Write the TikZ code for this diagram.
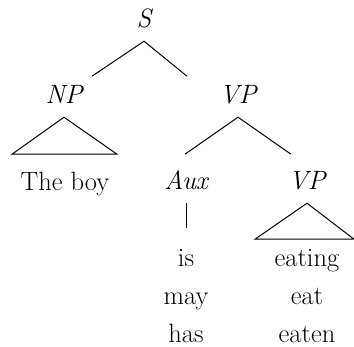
\documentclass[tikz,border=0pt]{standalone}
\usetikzlibrary{calc}

\begin{document}
\begin{tikzpicture}[
  x=1pt, y=-1pt,
  font=\fontsize{26.5}{31}\selectfont,
  cat/.style={font=\itshape\fontsize{26.5}{31}\selectfont, anchor=base, inner xsep=0pt, inner ysep=14pt, text depth=0pt},
  word/.style={anchor=base, inner sep=0pt},
  branch/.style={line width=1pt}
]
\useasboundingbox (0,0) rectangle (354,346);

\node[cat] (S) at (144,27) {S};
\node[cat] (NP) at (64,103) {NP};
\node[cat] (VP) at (238,103) {VP};
\node[word] (boy) at (65,190) {The boy};
\node[cat] (Aux) at (186,189) {Aux};
\node[cat] (VPb) at (307,189) {VP};

% free ends of the branches
\coordinate (S-l) at ($(S.south)+(-52,35)$);
\coordinate (S-r) at ($(S.south)+(43,35)$);
\coordinate (NP-l) at ($(NP.south)+(-52,37)$);
\coordinate (NP-r) at ($(NP.south)+(53,37)$);
\coordinate (VP-l) at ($(VP.south)+(-53,37)$);
\coordinate (VP-r) at ($(VP.south)+(53,37)$);
\coordinate (Aux-d) at ($(Aux.south)+(0,25)$);
\coordinate (VPb-l) at ($(VPb.south)+(-52,36)$);
\coordinate (VPb-r) at ($(VPb.south)+(47,36)$);

\draw[branch] (S-l) -- (S.south) -- (S-r);
\draw[branch] (NP.south) -- (NP-l) -- (NP-r) -- cycle;
\draw[branch] (VP-l) -- (VP.south) -- (VP-r);
\draw[line width=0.8pt] (Aux.south) -- (Aux-d);
\draw[branch] (VPb.south) -- (VPb-l) -- (VPb-r) -- cycle;

\foreach \w [count=\i from 0] in {is,may,has}
  \node[word] (aux\i) at (186,266+38*\i) {\w};
\foreach \w [count=\i from 0] in {eating,eat,eaten}
  \node[word] (verb\i) at (307,266+38*\i) {\w};
\end{tikzpicture}
\end{document}
